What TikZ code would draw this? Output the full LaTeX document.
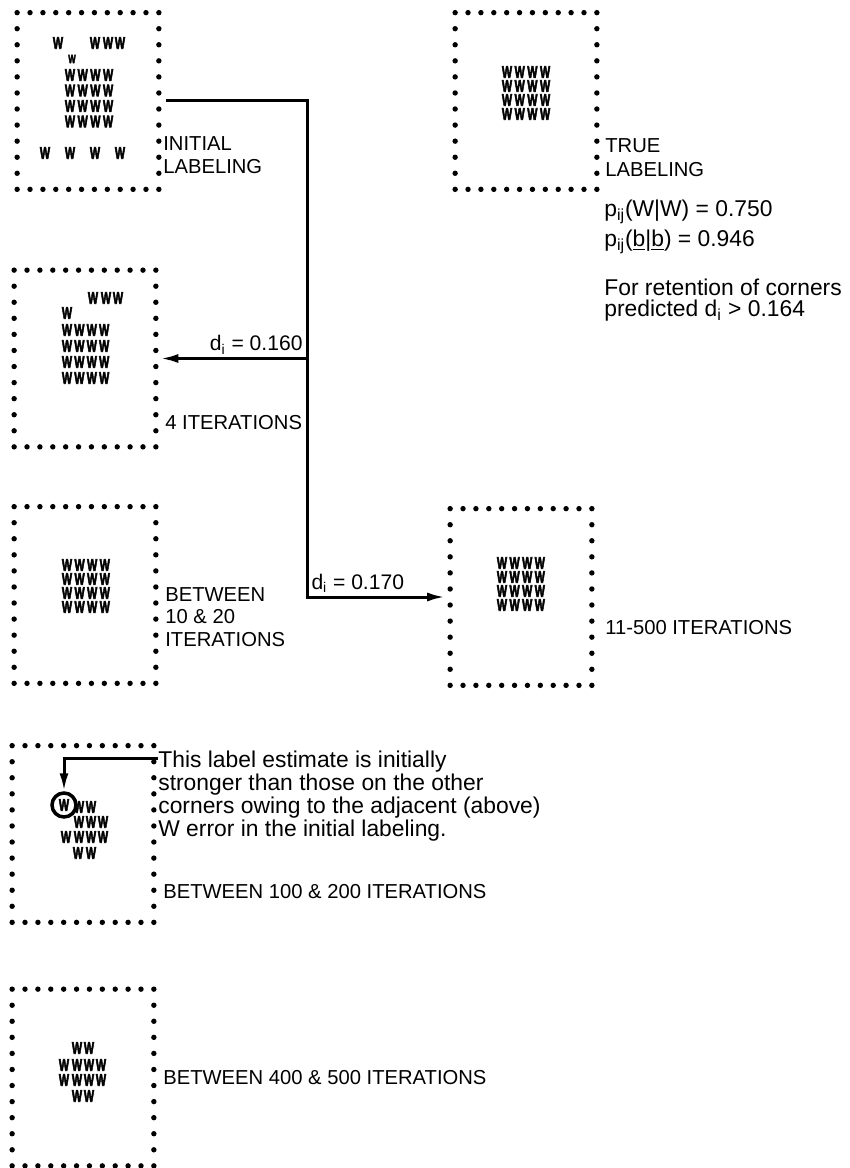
\documentclass[tikz,border=0pt]{standalone}
\usepackage{fontspec}
\setmainfont{Liberation Sans}
\newfontfamily\wfont{Liberation Sans Bold}[FakeBold=4]
\usetikzlibrary{arrows.meta,positioning,calc}
\newcommand{\wglyph}{\scalebox{0.68}[1.05]{\wfont W}}
\newcommand{\dotbox}[1]{%
  \foreach \k in {0,...,11} {
    \fill ($(#1.north west)!\k/11!(#1.north east)$) circle (2.7);
    \fill ($(#1.south west)!\k/11!(#1.south east)$) circle (2.7);
  }
  \foreach \k in {1,...,10} {
    \fill ($(#1.north west)!\k/11!(#1.south west)$) circle (2.7);
    \fill ($(#1.north east)!\k/11!(#1.south east)$) circle (2.7);
  }}
\begin{document}
\begin{tikzpicture}[x=0.2mm,y=-0.2mm,
  panel/.style={minimum width=28.2mm,minimum height=35.2mm,inner sep=0pt},
  wl/.style={font=\fontsize{9}{9}\selectfont,inner sep=0pt},
  caps/.style={font=\fontsize{11.5}{13}\selectfont,anchor=west,align=left,inner sep=0pt},
  note/.style={font=\fontsize{13}{13.1}\selectfont,anchor=west,align=left,inner sep=0pt},
  dlbl/.style={font=\fontsize{12}{12}\selectfont,inner sep=0.6mm},
  flow/.style={-{Latex[length=3.6mm,width=1.8mm]},line width=0.6mm}
]
\useasboundingbox (0,0) rectangle (850,1168);

% dotted frames
\node[panel] (init) at (88,101) {};
\node[panel] (truth) at (526,101) {};
\node[panel] (it4) at (85,358.5) {};
\node[panel] (it10) at (85,595) {};
\node[panel] (it11) at (521,597) {};
\node[panel] (it100) at (83,834) {};
\node[panel] (it400) at (83,1077.5) {};
\foreach \p in {init,truth,it4,it10,it11,it100,it400} {\dotbox{\p}}

% initial labeling
\foreach \x/\y [count=\k] in {58/43,95/43,108/43,120/43,45/153,70/153,95/153,120/153}
  \node[wl] (iw\k) at (\x,\y) {\wglyph};
\node[wl,font=\fontsize{6.5}{6.5}\selectfont] (iws) at (72,59) {\wglyph};
\foreach \i in {0,...,3} \foreach \j in {0,...,3}
  \node[wl] (ig\i\j) at (70+12.7*\i,75+15.5*\j) {\wglyph};

% true labeling
\foreach \i in {0,...,3} \foreach \j in {0,...,3}
  \node[wl] (tg\i\j) at (507+12.7*\i,72+14*\j) {\wglyph};

% 4 iterations
\foreach \x/\y [count=\k] in {93/298,106/298,118/298,67/313}
  \node[wl] (fw\k) at (\x,\y) {\wglyph};
\foreach \i in {0,...,3} \foreach \j in {0,...,3}
  \node[wl] (fg\i\j) at (67+12.4*\i,330+16*\j) {\wglyph};

% 10 to 20 and 11 to 500 iterations
\foreach \i in {0,...,3} \foreach \j in {0,...,3} {
  \node[wl] (bg\i\j) at (67+12.6*\i,565+14*\j) {\wglyph};
  \node[wl] (eg\i\j) at (502+12.6*\i,563+14*\j) {\wglyph};
}

% 100 to 200 iterations
\node[wl,circle,draw,line width=0.7mm,minimum size=4.8mm] (circ) at (64,805) {\wglyph};
\foreach \x/\y [count=\k] in {79/807,91/807,79/822,91/822,103/822,
    66/837,79/837,91/837,103/837,78/853,91/853}
  \node[wl] (hw\k) at (\x,\y) {\wglyph};

% 400 to 500 iterations
\foreach \x/\y [count=\k] in {77/1048,89/1048,64/1065,77/1065,89/1065,101/1065,
    64/1080,77/1080,89/1080,101/1080,77/1096,89/1096}
  \node[wl] (fh\k) at (\x,\y) {\wglyph};

% captions
\node[caps] (initlbl) at (163,155) {INITIAL\\LABELING};
\node[caps,font=\fontsize{11.5}{13.7}\selectfont] (truelbl) at (605,158) {TRUE\\LABELING};
\node[note,font=\fontsize{13}{17}\selectfont] (probs) at (604,227)
  {p\textsubscript{ij}(W|W) = 0.750\\p\textsubscript{ij}(\underline{b}|\underline{b}) = 0.946};
\node[note,font=\fontsize{13}{12}\selectfont] (retain) at (604,300)
  {For retention of corners\\predicted d\textsubscript{i} > 0.164};
\node[caps] (it4lbl) at (165,423) {4 ITERATIONS};
\node[caps] (it10lbl) at (165,617) {BETWEEN\\10 \& 20\\ITERATIONS};
\node[caps] (it11lbl) at (605,628) {11-500 ITERATIONS};
\node[note,anchor=north west] (remark) at (158,751)
  {This label estimate is initially\\stronger than those on the other\\
   corners owing to the adjacent (above)\\W error in the initial labeling.};
\node[caps] (it100lbl) at (163,892) {BETWEEN 100 \& 200 ITERATIONS};
\node[caps] (it400lbl) at (163,1078) {BETWEEN 400 \& 500 ITERATIONS};

% connectors
\coordinate (spine) at (307,0);
\draw[flow,shorten <=1.4mm,shorten >=1mm] (init.east) -| (spine |- it11.west)
  -- node[pos=0,anchor=south west,dlbl]{d\textsubscript{i} = 0.170} (it11.west);
\draw[flow,shorten >=0.9mm] (spine |- it4.east)
  -- node[pos=0,anchor=south east,dlbl]{d\textsubscript{i} = 0.160} (it4.east);
\draw[flow] ($(remark.north west)+(0,7)$) -| (circ.north);
\end{tikzpicture}
\end{document}
